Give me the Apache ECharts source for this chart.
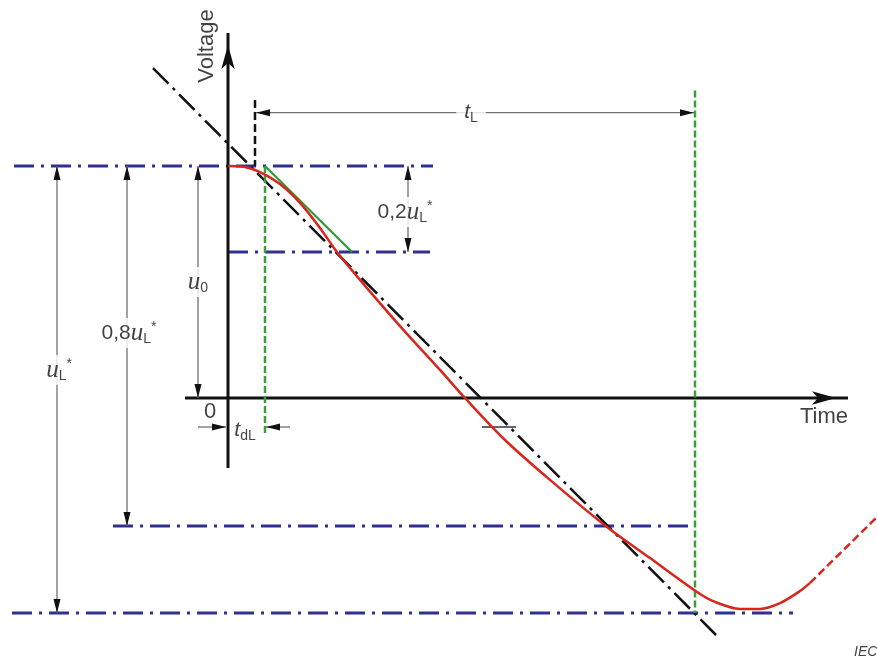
<!DOCTYPE html>
<html><head><meta charset="utf-8">
<script src="https://cdn.jsdelivr.net/npm/echarts@6/dist/echarts.min.js"></script>
<style>html,body{margin:0;padding:0;background:#fff}#c{width:877px;height:662px}</style>
</head><body><div id="c"></div>
<script>
// ---------- data (time units, voltage units; u0 = 100) ----------
const curveTime    = [0, 4.25, 8, 13, 18, 23, 27.25, 33, 43, 53, 59.25, 69.25, 80.5, 94.75, 105.5, 117.25, 121.75, 128, 133, 138, 143, 145.5];
const curveVoltage = [100, 99.6, 97.4, 92.2, 84.1, 73.3, 62.9, 50.9, 31.0, 12.1, 0, -18.1, -35.3, -55.6, -69.0, -83.6, -87.9, -90.9, -90.9, -88.4, -83.2, -79.7];
const tailTime     = [145.5, 162.25];
const tailVoltage  = [-79.7, -51.3];
const tangentTime    = [-18.75, 122.5];
const tangentVoltage = [142.2, -103.0];
const slopeTime    = [9.25, 31];
const slopeVoltage = [100, 62.9];

const levelVoltage = [100, 62.9, -55.2, -92.7];       // u0, u0-0.2uL*, u0-0.8uL*, u0-uL*
const levelStart   = [-53.5, 0, -28.75, -54];
const levelEnd     = [51.25, 50.5, 116.75, 141.25];

const tdlTime = 9.25;            // end of delay (green dashed)
const tdlVoltage = [100, -16];
const tlTime = 116.75;           // end of t_L (green dashed)
const tlVoltage = [132.5, -92.7];
const startMarkTime = 6.75;      // black dashed start marker
const startMarkVoltage = [128.4, 100];

// axes (drawn as arrows)
const timeAxisTime = [-10.75, 155];
const voltAxisVoltage = [-30.17, 157.3];

// vertical dimension arrows
const dimTime   = [-42.75, -25.25, -7.5, 45];
const dimTop    = [100, 100, 100, 100];
const dimBottom = [-92.7, -55.2, 0, 62.9];
const dimLabelVoltage = [12.1, 28.0, 50.0, 80.2];
const dimLabels = ['{u|u}{s|L}{p|*}', '{n|0,8}{u|u}{s|L}{p|*}', '{u|u}{s|0}', '{n|0,2}{u|u}{s|L}{p|*}'];
const dimLabelTime = [-42.25, -24.75, -7.5, 44.25];

// horizontal dimension t_L
const tLTime = [7, 116.5];
const tLVoltage = 123;
// t_dL arrows
const tdLLeft  = [-7.5, -0.5];
const tdLRight = [15.5, 9.5];
const tdLVoltage = -12.5;
const smallTickTime = [63.5, 72];

// ---------- drawing ----------
const TXT = '#111';
const BLUE = '#2e3192';
const series = [];
function line(ts, vs, style, z) {
  series.push({type:'line', data: ts.map((t,i)=>[t, vs[i]]), symbol:'none', silent:true,
    lineStyle: style, z: z || 2, emphasis:{disabled:true}});
}
const ARW = {up:{r:0,o:[0,7]}, down:{r:180,o:[0,-7]}, left:{r:90,o:[7,0]}, right:{r:-90,o:[-7,0]}};
function arrowLine(p0, p1, a0, a1, color, width, sym, size) {
  const h = size[1] / 2;
  const off = {up:[0,h], down:[0,-h], left:[h,0], right:[-h,0]};
  const item = (p, a) => a ? {value:p, symbol:sym, symbolSize:size, symbolRotate:ARW[a].r, symbolOffset:off[a]}
                           : {value:p, symbol:'none'};
  series.push({type:'line', data:[item(p0,a0), item(p1,a1)], silent:true, showSymbol:true,
    lineStyle:{color, width}, itemStyle:{color:'#111'}, z:3, emphasis:{disabled:true}});
}
const dimLine = (p0,p1,a0,a1) => arrowLine(p0,p1,a0,a1,'#707070',1.3,'triangle',[7,14]);

// axes
arrowLine([timeAxisTime[0],0],[timeAxisTime[1],0],null,'right','#111',3,'arrow',[10,24]);
arrowLine([0,voltAxisVoltage[0]],[0,voltAxisVoltage[1]],null,'up','#111',3,'arrow',[10,24]);
// blue reference levels
levelVoltage.forEach((v,i)=> line([levelStart[i], levelEnd[i]], [v, v], {color:BLUE, width:3, type:[20,7,3,7]}, 2));
// black tangent
line(tangentTime, tangentVoltage, {color:'#111', width:2.5, type:[22,6,3,6]}, 3);
// green verticals
line([tdlTime, tdlTime], tdlVoltage, {color:'#3a9e3a', width:2.5, type:[7,3]}, 3);
line([tlTime, tlTime], tlVoltage, {color:'#3a9e3a', width:2.5, type:[7,3]}, 3);
// black dashed start marker
line([startMarkTime, startMarkTime], startMarkVoltage, {color:'#111', width:2.5, type:[8,4]}, 3);
// green slope line
line(slopeTime, slopeVoltage, {color:'#2f9a35', width:2.2}, 4);
// red curve
series.push({type:'line', data: curveTime.map((t,i)=>[t, curveVoltage[i]]), symbol:'none', silent:true,
  smooth:0.3, lineStyle:{color:'#d8261d', width:2.5}, z:5});
line(tailTime, tailVoltage, {color:'#d8261d', width:2.5, type:[8,4]}, 5);

// dimension lines
dimTime.forEach((t,i)=> dimLine([t, dimTop[i]], [t, dimBottom[i]], 'up', 'down'));
dimLine([tLTime[0], tLVoltage], [tLTime[1], tLVoltage], 'left', 'right');
dimLine([tdLLeft[0], tdLVoltage], [tdLLeft[1], tdLVoltage], null, 'right');
dimLine([tdLRight[0], tdLVoltage], [tdLRight[1], tdLVoltage], null, 'left');
line(smallTickTime, [tdLVoltage, tdLVoltage], {color:'#333', width:1.3}, 3);

// labels
const rich = {
  n:{fontFamily:'Liberation Sans', fontSize:21, color:TXT, lineHeight:26},
  u:{fontFamily:'Liberation Serif', fontStyle:'italic', fontSize:25, color:TXT, lineHeight:26},
  t:{fontFamily:'Liberation Sans', fontStyle:'italic', fontSize:21, color:TXT, lineHeight:26},
  s:{fontFamily:'Liberation Sans', fontSize:14, color:TXT, verticalAlign:'bottom', lineHeight:16},
  p:{fontFamily:'Liberation Sans', fontSize:14, color:TXT, verticalAlign:'top', lineHeight:8},
  a:{fontFamily:'Liberation Sans', fontSize:22, color:TXT},
  i:{fontFamily:'Liberation Sans', fontStyle:'italic', fontSize:14, color:TXT}
};
const labelItems = [];
dimLabels.forEach((f,i)=> labelItems.push({value:[dimLabelTime[i], dimLabelVoltage[i]], f, bg:true}));
labelItems.push({value:[60.75, tLVoltage], f:'{t|t}{s|L}', bg:true, pad:[0,8]});
labelItems.push({value:[4.25, -13.8], f:'{t|t}{s|dL}'});
labelItems.push({value:[-4.5, -6], f:'{a|0}'});
labelItems.push({value:[149, -8.2], f:'{a|Time}'});
labelItems.push({value:[-5.25, 151.7], f:'{a|Voltage}', rot:90});
labelItems.push({value:[156, -109.5], f:'{i|IEC}', left:true});

series.push({type:'scatter', symbolSize:0.1, itemStyle:{color:'rgba(0,0,0,0)'}, silent:true, z:10,
  data: labelItems.map(d=>({value:d.value, label:{show:true, position:'inside', formatter:d.f, rich,
    rotate:d.rot||0, align: d.left ? 'left' : 'center', verticalAlign:'middle',
    backgroundColor: d.bg ? '#fff' : 'transparent', padding: d.pad || [2,2]}}))
});

const chart = echarts.init(document.getElementById('c'));
chart.setOption({
  animation:false,
  backgroundColor:'#fff',
  grid:{left:0, right:0, top:0, bottom:0},
  xAxis:{type:'value', min:-57, max:162.25, show:false},
  yAxis:{type:'value', min:-113.793, max:171.552, show:false},
  series
});
</script></body></html>
